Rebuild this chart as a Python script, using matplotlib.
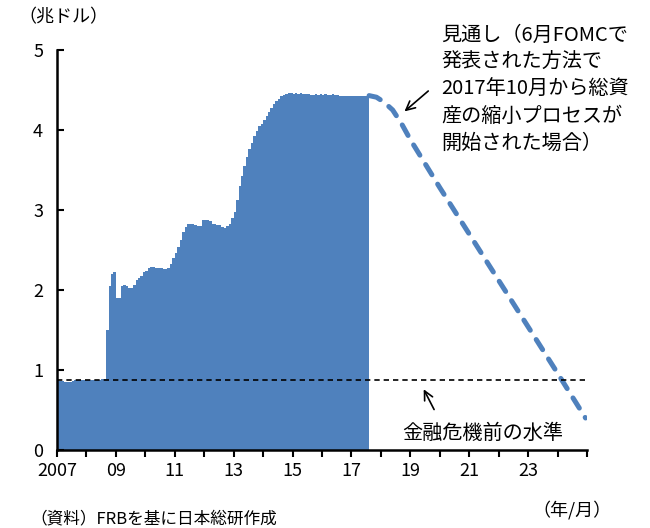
import numpy as np
import matplotlib.pyplot as plt

plt.rcParams['font.family'] = ['Noto Sans CJK JP', 'DejaVu Sans']

# FRB総資産（兆ドル、月次、2007年1月～2017年7月）
start_year = 2007
assets = [
    0.87, 0.86, 0.86, 0.85, 0.85, 0.85, 0.86, 0.87, 0.87, 0.87, 0.87, 0.88,  # 2007
    0.88, 0.88, 0.88, 0.88, 0.88, 0.88, 0.89, 0.89, 1.50, 2.05, 2.20, 2.22,  # 2008
    1.90, 1.90, 2.05, 2.06, 2.05, 2.02, 2.03, 2.06, 2.12, 2.15, 2.17, 2.22,  # 2009
    2.24, 2.27, 2.29, 2.29, 2.28, 2.27, 2.27, 2.26, 2.26, 2.27, 2.33, 2.40,  # 2010
    2.46, 2.54, 2.62, 2.72, 2.79, 2.82, 2.82, 2.82, 2.81, 2.80, 2.80, 2.87,  # 2011
    2.88, 2.88, 2.86, 2.82, 2.82, 2.81, 2.81, 2.79, 2.77, 2.80, 2.83, 2.90,  # 2012
    2.98, 3.12, 3.30, 3.42, 3.55, 3.66, 3.76, 3.84, 3.92, 3.99, 4.05, 4.08,  # 2013
    4.12, 4.18, 4.23, 4.28, 4.32, 4.36, 4.39, 4.42, 4.44, 4.45, 4.46, 4.46,  # 2014
    4.45, 4.46, 4.45, 4.46, 4.45, 4.45, 4.45, 4.44, 4.44, 4.45, 4.44, 4.45,  # 2015
    4.44, 4.45, 4.44, 4.44, 4.45, 4.44, 4.44, 4.43, 4.43, 4.43, 4.43, 4.43,  # 2016
    4.42, 4.43, 4.42, 4.42, 4.42, 4.42, 4.43,                                # 2017
]

# 見通し
proj_x = [2017.6, 2017.85, 2018.1, 2018.4, 2018.7, 2019.0, 2019.5, 2020.0,
          2021.0, 2022.0, 2023.0, 2024.0, 2024.95]
proj_y = [4.43, 4.41, 4.35, 4.25, 4.08, 3.88, 3.58, 3.28,
          2.70, 2.12, 1.54, 0.96, 0.40]

pre_crisis = 0.87

tick_years = list(range(2007, 2026))
tick_labels = ["2007" if y == 2007 else ("%02d" % (y % 100) if (y - 2007) % 2 == 0 and y < 2025 else "")
               for y in tick_years]

blue = "#4F81BD"

fig = plt.figure(figsize=(6.5, 5.28), dpi=100)
ax = fig.add_axes([57/650, 1 - 450/528, 530/650, 400/528])

# 月次の棒を一つの階段状の面で描く
x = start_year + np.arange(len(assets) + 1) / 12
y = np.append(assets, assets[-1])
ax.fill_between(x, 0, y, step='post', color=blue, linewidth=0)

ax.plot(proj_x, proj_y, color=blue, lw=3.6, dashes=(2.4, 2.2), dash_capstyle='round')
ax.plot([2007, 2025], [pre_crisis, pre_crisis], color='black', lw=1.2, dashes=(3.2, 2.4))

ax.set_xlim(2007, 2025)
ax.set_ylim(0, 5)
ax.set_yticks([0, 1, 2, 3, 4, 5])
ax.set_xticks(tick_years)
ax.set_xticklabels(tick_labels)

for s in ['top', 'right']:
    ax.spines[s].set_visible(False)
for s in ['left', 'bottom']:
    ax.spines[s].set_linewidth(1.8)
ax.tick_params(axis='y', direction='in', length=5, width=1.5, labelsize=13, pad=10)
ax.tick_params(axis='x', direction='out', length=5, width=1.5, labelsize=13, pad=4)

# 注記
ax.annotate("", xy=(2018.73, 4.21), xytext=(2019.68, 4.51),
            arrowprops=dict(arrowstyle='->', color='black', lw=1.2, mutation_scale=16),
            annotation_clip=False)
ax.annotate("", xy=(2019.41, 0.79), xytext=(2019.85, 0.475),
            arrowprops=dict(arrowstyle='->', color='black', lw=1.2, mutation_scale=16),
            annotation_clip=False)

note_lines = ["見通し（6月FOMCで", "発表された方法で", "2017年10月から総資",
              "産の縮小プロセスが", "開始された場合）"]
for i, line in enumerate(note_lines):
    fig.text(441/650, 1 - (35 + 27 * i)/528, line, fontsize=14.5, va='center', ha='left')

fig.text(483/650, 1 - 433/528, "金融危機前の水準", fontsize=14.5, va='center', ha='center')
fig.text(18/650, 1 - 17/528, "（兆ドル）", fontsize=13, va='center', ha='left')
fig.text(612/650, 1 - 510/528, "（年/月）", fontsize=13, va='center', ha='right')
fig.text(30/650, 1 - 519/528, "（資料）FRBを基に日本総研作成", fontsize=12, va='center', ha='left')

plt.savefig("out.png", dpi=100)
plt.close()
